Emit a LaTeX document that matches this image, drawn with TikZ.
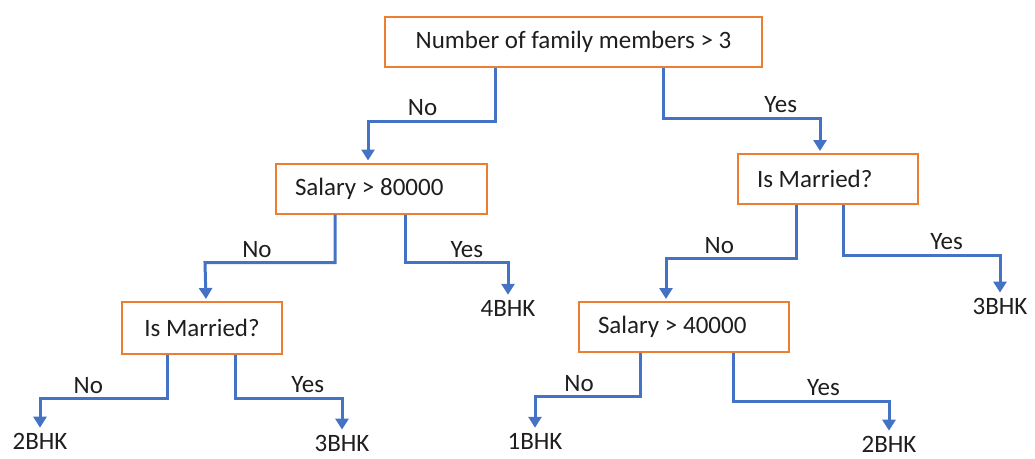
\documentclass[tikz,border=0pt]{standalone}
\usepackage{fontspec}
\setmainfont{Carlito}
\usetikzlibrary{positioning, arrows.meta}
\definecolor{boxorange}{RGB}{237,125,49}
\definecolor{arrowblue}{RGB}{68,114,196}
\definecolor{inkgray}{RGB}{30,30,30}
\newcommand{\lefttext}[2]{\makebox[#1][l]{#2}}

\begin{document}
\begin{tikzpicture}[font=\fontsize{25}{30}\selectfont, text=inkgray,
			test/.style={draw=boxorange, line width=2pt, minimum height=50pt, inner xsep=10pt},
			leaf/.style={inner sep=3pt},
			arr/.style={draw=arrowblue, line width=3pt, -{Triangle[width=13pt,length=11pt]}, shorten >=2pt}]
	\useasboundingbox (0,0) rectangle (1035pt,-458pt);
	\node[test, minimum width=377pt] (root) at (573.5pt,-42pt)		{Number of family members > 3};
	\node[test, inner xsep=19pt] (sal1) at (381.5pt,-188.5pt)		{\lefttext{173pt}{Salary > 80000}};
	\node[test, inner xsep=19pt] (mar1) at (828pt,-179pt)		{\lefttext{142pt}{Is Married?}};
	\node[test, minimum width=160pt, minimum height=52pt] (mar2) at (202pt,-328pt)		{Is Married?};
	\node[test, inner xsep=19pt] (sal2) at (684pt,-327pt)		{\lefttext{172pt}{Salary > 40000}};
	\node[leaf] (l4) at (508pt,-308pt)		{4BHK};
	\node[leaf] (l3r) at (1000pt,-306pt)	{3BHK};
	\node[leaf] (l2l) at (40pt,-441pt)		{2BHK};
	\node[leaf] (l3m) at (342pt,-443pt)		{3BHK};
	\node[leaf] (l1) at (535pt,-441pt)		{1BHK};
	\node[leaf] (l2r) at (889pt,-444pt)		{2BHK};
	\draw[arr] ([xshift=-78.5pt]root.south) -- ++(0,-53pt) -- node[above, pos=0.57] {No} ++(-127pt,0) -- ([xshift=-13.5pt]sal1.north);
	\draw[arr] ([xshift=89.5pt]root.south) -- ++(0,-50pt) -- node[above, pos=0.75] {Yes} ++(157pt,0) -- ([xshift=-8pt]mar1.north);
	\draw[arr] ([xshift=-46.5pt]sal1.south) -- ++(0,-48pt) -- node[above, pos=0.6] {No} ++(-130pt,0) -- ([xshift=4pt]mar2.north);
	\draw[arr] ([xshift=23.5pt]sal1.south) -- ++(0,-48pt) -| node[above, pos=0.3] {Yes} (l4.north);
	\draw[arr] ([xshift=-32pt]mar1.south) -- ++(0,-53pt) -- node[above, pos=0.59] {No} ++(-130pt,0) -- ([xshift=-18pt]sal2.north);
	\draw[arr] ([xshift=15pt]mar1.south) -- ++(0,-50pt) -| node[above, pos=0.33] {Yes} (l3r.north);
	\draw[arr] ([xshift=-35pt]mar2.south) -- ++(0,-43pt) -| node[above, pos=0.31] {No} (l2l.north);
	\draw[arr] ([xshift=33pt]mar2.south) -- ++(0,-43pt) -| node[above, pos=0.34] {Yes} (l3m.north);
	\draw[arr] ([xshift=-44pt]sal2.south) -- ++(0,-43pt) -| node[above, pos=0.29] {No} (l1.north);
	\draw[arr] ([xshift=49pt]sal2.south) -- ++(0,-48pt) -| node[above, pos=0.29] {Yes} (l2r.north);
\end{tikzpicture}
\end{document}
